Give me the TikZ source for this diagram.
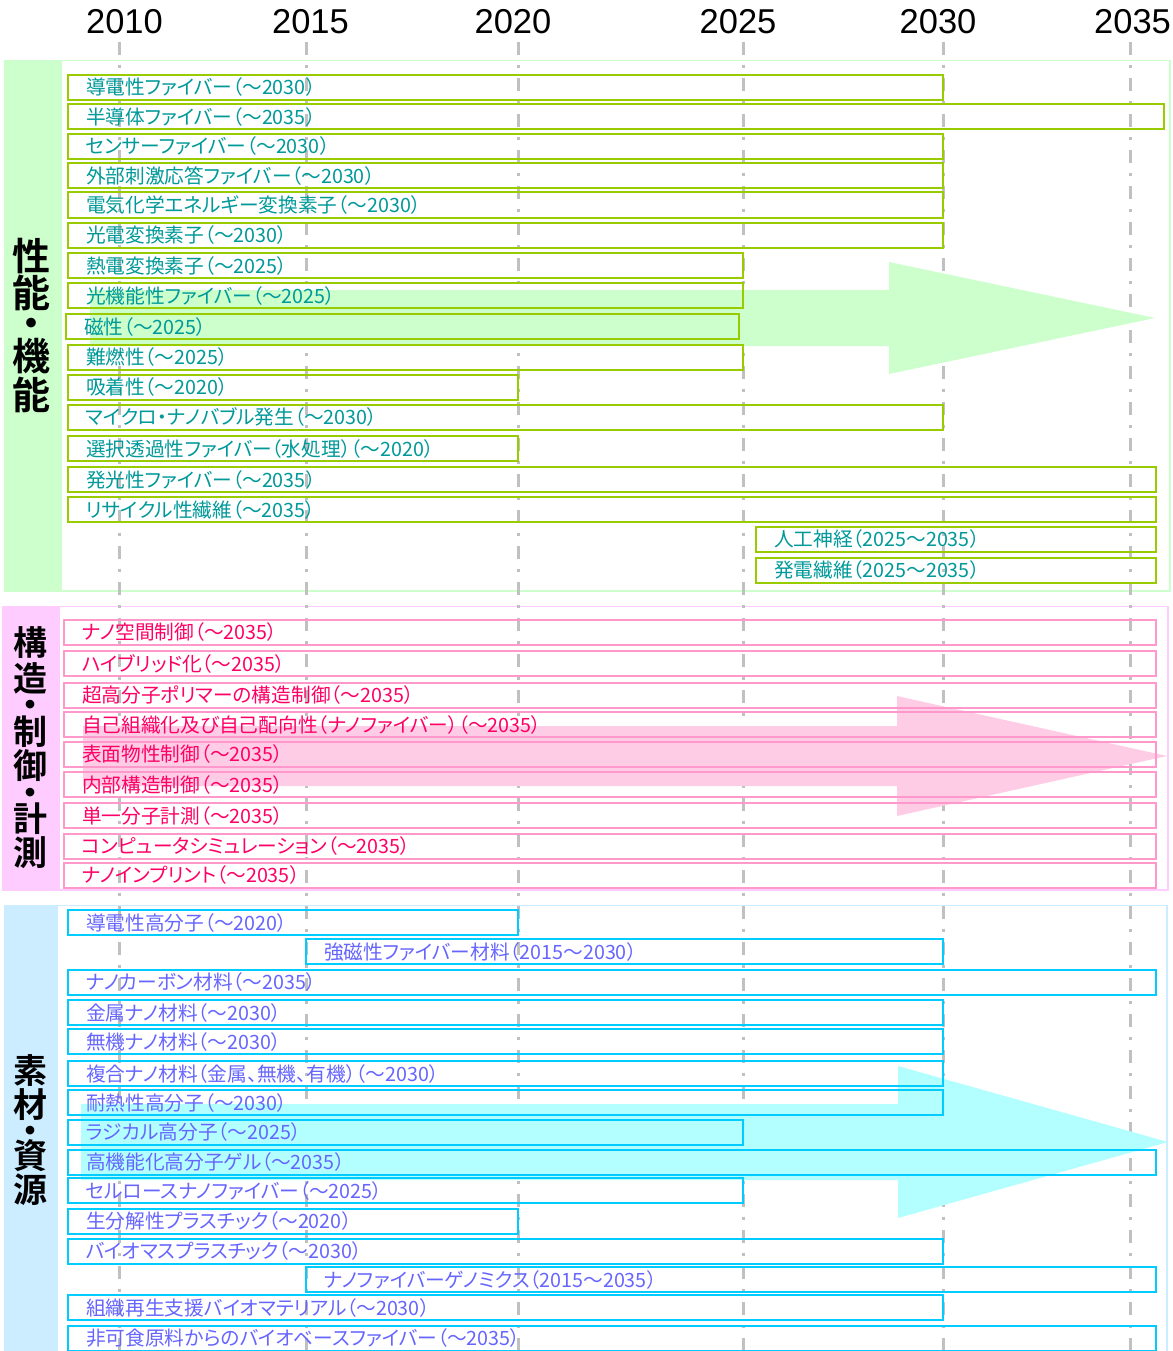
\documentclass[tikz,border=0pt]{standalone}
\usepackage{fontspec}
\newfontfamily\jp[RawFeature=+palt]{Noto Sans CJK JP}
\newfontfamily\jpbold[RawFeature=+palt]{Noto Sans CJK JP Bold}
\newfontfamily\arialfont{Liberation Sans}
\definecolor{gTab}{HTML}{CCFFCC}
\definecolor{pTab}{HTML}{FFCCFF}
\definecolor{bTab}{HTML}{CCECFF}
\definecolor{gLine}{HTML}{99CC00}
\definecolor{pLine}{HTML}{FF99CC}
\definecolor{bLine}{HTML}{00CCFF}
\definecolor{gText}{HTML}{009999}
\definecolor{pText}{HTML}{FF0066}
\definecolor{bText}{HTML}{6666FF}
\definecolor{gArrow}{HTML}{CCFFCC}
\definecolor{pArrow}{HTML}{FFCCE5}
\definecolor{bArrow}{HTML}{B3FFFF}
\definecolor{axisGray}{HTML}{C0C0C0}
\newcommand\mkbar[7]{%
  \node[#2, minimum width={#5pt-#4pt}, anchor=west] (#1) at (#4,#6) {};
  \node[#3, anchor=west] (#1t) at ([xshift=18pt]#1.west) {#7};
}
\begin{document}
\begin{tikzpicture}[x=1pt,y=-1pt,
  barbox/.style={line width=2pt, minimum height=25pt, inner sep=0pt, outer sep=0pt},
  gbox/.style={barbox, draw=gLine},
  pbox/.style={barbox, draw=pLine},
  bbox/.style={barbox, draw=bLine},
  bartext/.style={inner sep=0pt, outer sep=0pt, font=\jp\fontsize{19.7}{22}\selectfont, text height=15pt, text depth=0pt},
  gtxt/.style={bartext, text=gText},
  ptxt/.style={bartext, text=pText},
  btxt/.style={bartext, text=bText},
  yearlabel/.style={inner sep=0pt, font=\arialfont\fontsize{34.5}{37}\selectfont, text height=24.7pt, text depth=0pt},
  titlebig/.style={inner sep=0pt, font=\jpbold\fontsize{38}{40}\selectfont, text height=28.9pt, text depth=0pt},
  titlesmall/.style={inner sep=0pt, font=\jpbold\fontsize{34}{36}\selectfont, text height=25.8pt, text depth=0pt},
  yearline/.style={draw=axisGray, line width=3pt, dash pattern=on 13pt off 10pt on 3pt off 10pt},
]
\useasboundingbox (0,0) rectangle (1172,1351);
\fill[white] (0,0) rectangle (1172,1351);

% section frames
\draw[gTab, line width=1.5pt] (5,60.5) rectangle (1170,591);
\fill[gTab] (5,60) rectangle (62,591);
\draw[pTab, line width=1.5pt] (3,606.5) rectangle (1168,890);
\fill[pTab] (3,606) rectangle (60,890);
\draw[bTab, line width=1.5pt] (5,905.5) rectangle (1167,1355);
\fill[bTab] (5,905) rectangle (58,1351);

% year labels
\node[yearlabel] (y2010) at (124.5,21.5) {2010};
\node[yearlabel] (y2015) at (310.5,21.5) {2015};
\node[yearlabel] (y2020) at (513,21.5) {2020};
\node[yearlabel] (y2025) at (738,21.5) {2025};
\node[yearlabel] (y2030) at (938,21.5) {2030};
\node[yearlabel] (y2035) at (1132.5,21.5) {2035};

% year lines
\foreach \xx in {119,306,518,743,943,1130}
  \draw[yearline] (\xx,42) -- (\xx,1351);

% big arrows
\fill[gArrow] (90,290) -- (889,290) -- (889,262) -- (1155,318) -- (889,374) -- (889,346) -- (90,346) -- cycle;
\fill[pArrow] (83,726) -- (897,726) -- (897,696) -- (1167,756) -- (897,816) -- (897,786) -- (83,786) -- cycle;
\fill[bArrow] (81,1104) -- (898,1104) -- (898,1066) -- (1168,1142) -- (898,1218) -- (898,1180) -- (81,1180) -- cycle;

% section titles
\node[titlebig] (ta1) at (31.5,256) {性};
\node[titlebig] (ta2) at (31.5,293) {能};
\node[titlebig] (ta3) at (31.5,323) {・};
\node[titlebig] (ta4) at (31.5,356) {機};
\node[titlebig] (ta5) at (31.5,395) {能};

\node[titlesmall] (tb1) at (30,643) {構};
\node[titlesmall] (tb2) at (30,679) {造};
\node[titlesmall] (tb3) at (30,705) {・};
\node[titlesmall] (tb4) at (30,732) {制};
\node[titlesmall] (tb5) at (30,766) {御};
\node[titlesmall] (tb6) at (30,793) {・};
\node[titlesmall] (tb7) at (30,819) {計};
\node[titlesmall] (tb8) at (30,853) {測};

\node[titlesmall] (tc1) at (30,1071) {素};
\node[titlesmall] (tc2) at (30,1105) {材};
\node[titlesmall] (tc3) at (30,1131) {・};
\node[titlesmall] (tc4) at (30,1156) {資};
\node[titlesmall] (tc5) at (30,1190) {源};

% green bars
\mkbar{g1}{gbox}{gtxt}{68}{943}{87.5}{導電性ファイバー（～2030）}
\mkbar{g2}{gbox}{gtxt}{68}{1164}{117}{半導体ファイバー（～2035）}
\mkbar{g3}{gbox}{gtxt}{68}{943}{146.5}{センサーファイバー（～2030）}
\mkbar{g4}{gbox}{gtxt}{68}{943}{175.5}{外部刺激応答ファイバー（～2030）}
\mkbar{g5}{gbox}{gtxt}{68}{943}{205}{電気化学エネルギー変換素子（～2030）}
\mkbar{g6}{gbox}{gtxt}{68}{943}{235}{光電変換素子（～2030）}
\mkbar{g7}{gbox}{gtxt}{68}{743}{265.5}{熱電変換素子（～2025）}
\mkbar{g8}{gbox}{gtxt}{68}{743}{295.5}{光機能性ファイバー（～2025）}
\mkbar{g9}{gbox}{gtxt}{66}{739}{326.5}{磁性（～2025）}
\mkbar{g10}{gbox}{gtxt}{68}{743}{357}{難燃性（～2025）}
\mkbar{g11}{gbox}{gtxt}{68}{518}{387}{吸着性（～2020）}
\mkbar{g12}{gbox}{gtxt}{68}{943}{417}{マイクロ・ナノバブル発生（～2030）}
\mkbar{g13}{gbox}{gtxt}{68}{518}{448.5}{選択透過性ファイバー（水処理）（～2020）}
\mkbar{g14}{gbox}{gtxt}{68}{1156}{479.5}{発光性ファイバー（～2035）}
\mkbar{g15}{gbox}{gtxt}{68}{1156}{509.5}{リサイクル性繊維（～2035）}
\mkbar{g16}{gbox}{gtxt}{756}{1156}{539}{人工神経（2025～2035）}
\mkbar{g17}{gbox}{gtxt}{756}{1156}{570}{発電繊維（2025～2035）}

% pink bars
\mkbar{p1}{pbox}{ptxt}{64}{1156}{632}{ナノ空間制御（～2035）}
\mkbar{p2}{pbox}{ptxt}{64}{1156}{663.5}{ハイブリッド化（～2035）}
\mkbar{p3}{pbox}{ptxt}{64}{1156}{695}{超高分子ポリマーの構造制御（～2035）}
\mkbar{p4}{pbox}{ptxt}{64}{1156}{724.5}{自己組織化及び自己配向性（ナノファイバー）（～2035）}
\mkbar{p5}{pbox}{ptxt}{64}{1156}{754}{表面物性制御（～2035）}
\mkbar{p6}{pbox}{ptxt}{64}{1156}{784.5}{内部構造制御（～2035）}
\mkbar{p7}{pbox}{ptxt}{64}{1156}{815.5}{単一分子計測（～2035）}
\mkbar{p8}{pbox}{ptxt}{64}{1156}{846}{コンピュータシミュレーション（～2035）}
\mkbar{p9}{pbox}{ptxt}{64}{1156}{875}{ナノインプリント（～2035）}

% blue bars
\mkbar{b1}{bbox}{btxt}{68}{518}{922.5}{導電性高分子（～2020）}
\mkbar{b2}{bbox}{btxt}{306}{943}{951.5}{強磁性ファイバー材料（2015～2030）}
\mkbar{b3}{bbox}{btxt}{68}{1156}{982}{ナノカーボン材料（～2035）}
\mkbar{b4}{bbox}{btxt}{68}{943}{1012.5}{金属ナノ材料（～2030）}
\mkbar{b5}{bbox}{btxt}{68}{943}{1041.5}{無機ナノ材料（～2030）}
\mkbar{b6}{bbox}{btxt}{68}{943}{1073.5}{複合ナノ材料（金属、無機、有機）（～2030）}
\mkbar{b7}{bbox}{btxt}{68}{943}{1102.5}{耐熱性高分子（～2030）}
\mkbar{b8}{bbox}{btxt}{68}{743}{1132}{ラジカル高分子（～2025）}
\mkbar{b9}{bbox}{btxt}{68}{1156}{1162}{高機能化高分子ゲル（～2035）}
\mkbar{b10}{bbox}{btxt}{68}{743}{1190.5}{セルロースナノファイバー（～2025）}
\mkbar{b11}{bbox}{btxt}{68}{518}{1221}{生分解性プラスチック（～2020）}
\mkbar{b12}{bbox}{btxt}{68}{943}{1251}{バイオマスプラスチック（～2030）}
\mkbar{b13}{bbox}{btxt}{306}{1156}{1279.5}{ナノファイバーゲノミクス（2015～2035）}
\mkbar{b14}{bbox}{btxt}{68}{943}{1307.5}{組織再生支援バイオマテリアル（～2030）}
\mkbar{b15}{bbox}{btxt}{68}{1156}{1338}{非可食原料からのバイオベースファイバー（～2035）}
\end{tikzpicture}
\end{document}
